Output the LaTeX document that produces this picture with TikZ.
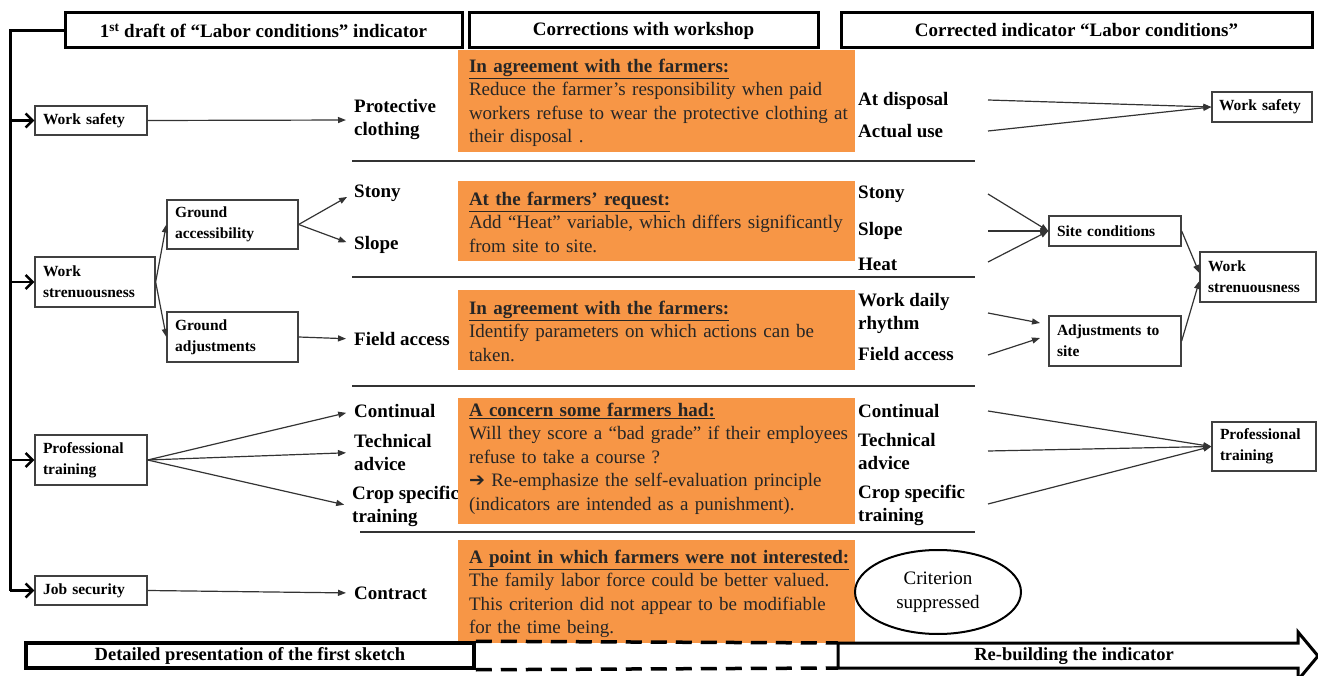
\documentclass[tikz,border=0pt]{standalone}
\usepackage{fontspec}
\setmainfont{Liberation Serif}
\newfontfamily\symfont{DejaVu Sans}
\usetikzlibrary{arrows.meta,shapes.geometric,calc}
\definecolor{orangeF}{RGB}{247,150,70}
\begin{document}
\begin{tikzpicture}[x=1pt,y=-1pt,
 hdr/.style={draw, line width=3pt, font=\fontsize{19}{21}\selectfont\bfseries, inner sep=0pt, minimum height=35pt},
 sbox/.style={draw=black!75, line width=1.3pt, font=\fontsize{15.5}{21}\selectfont\bfseries, align=left, inner xsep=8pt, inner ysep=0pt},
 lbl/.style={font=\fontsize{19}{23}\selectfont\bfseries, align=left, anchor=west, inner sep=0pt},
 obox/.style={fill=orangeF, draw=none, inner sep=0pt, minimum width=397pt},
 otext/.style={font=\fontsize{19}{23.5}\selectfont, text=black!85, text width=376pt, anchor=north west, inner sep=0pt, align=left},
 con/.style={draw=black!80, line width=1.2pt, -{Triangle[length=8pt,width=6pt]}},
 sepline/.style={draw=black!80, line width=2pt},
 spine/.style={line width=3pt},
 spinearr/.style={line width=2.5pt, -{Straight Barb[length=7pt,width=14pt]}},
 bar/.style={line width=3.5pt},
]
\useasboundingbox (0,0) rectangle (1318,676);

% ---------- headers ----------
\node[hdr, minimum width=397pt] (h1) at (263.5,30.5) {1\textsuperscript{st} draft of “Labor conditions” indicator};
\node[hdr, minimum width=349pt] (h2) at (643.5,30.5) {Corrections with workshop};
\node[hdr, minimum width=471pt] (h3) at (1076.5,30.5) {Corrected indicator “Labor conditions”};

% ---------- left boxes ----------
\node[sbox, text width=96pt, minimum height=29pt] (ws) at (91,120.5) {Work safety};
\node[sbox, text width=104pt, minimum height=50pt] (wst) at (95,282) {Work\\strenuousness};
\node[sbox, text width=115pt, minimum height=49pt] (ga) at (232.5,224.5) {Ground\\accessibility};
\node[sbox, text width=115pt, minimum height=50pt] (gad) at (232.5,337) {Ground\\adjustments};
\node[sbox, text width=96pt, minimum height=50pt] (pt) at (91,460) {Professional\\training};
\node[sbox, text width=96pt, minimum height=29pt] (js) at (91,590.5) {Job security};

% spine
\coordinate (sp0) at (10,30.5);
\coordinate (sp4) at (10,590.5);
\draw[spine] (h1.west) -- (sp0) -- (sp4);
\draw[spinearr] (ws.west -| sp0) -- (ws.west);
\draw[spinearr] (wst.west -| sp0) -- (wst.west);
\draw[spinearr] (pt.west -| sp0) -- (pt.west);
\draw[spinearr] (js.west -| sp0) -- (js.west);

% ---------- left labels ----------
\node[lbl] (prot) at (354,120) {Protective\\clothing};
\node[lbl] (stony) at (354,193) {Stony};
\node[lbl] (slope) at (354,245) {Slope};
\node[lbl] (fa) at (354,339) {Field access};
\node[lbl] (cont) at (354,411) {Continual};
\node[lbl] (tech) at (354,452.5) {Technical\\advice};
\node[lbl] (crop) at (352,506.5) {Crop specific\\training};
\node[lbl] (contr) at (354,593) {Contract};

\draw[con, shorten >=8pt] (ws.east) -- (prot.west);
\draw[con] (wst.east) -- (ga.west);
\draw[con] (wst.east) -- (gad.west);
\draw[con, shorten >=8pt] (ga.east) -- (stony.west);
\draw[con, shorten >=8pt] (ga.east) -- (slope.west);
\draw[con, shorten >=8pt] (gad.east) -- (fa.west);
\draw[con, shorten >=8pt] (pt.east) -- (cont.west);
\draw[con, shorten >=8pt] (pt.east) -- (tech.west);
\draw[con, shorten >=8pt] (pt.east) -- (crop.west);
\draw[con, shorten >=8pt] (js.east) -- (contr.west);

% ---------- separators ----------
\coordinate (s1a) at (352,161); \coordinate (s1b) at (975,161);
\coordinate (s2a) at (352,277); \coordinate (s2b) at (975,277);
\coordinate (s3a) at (352,386); \coordinate (s3b) at (975,386);
\coordinate (s4a) at (360,532); \coordinate (s4b) at (975,532);
\draw[sepline] (s1a) -- (s1b);
\draw[sepline] (s2a) -- (s2b);
\draw[sepline] (s3a) -- (s3b);
\draw[sepline] (s4a) -- (s4b);

% ---------- orange boxes ----------
\node[obox, minimum height=102pt] (ob1) at (656.5,101) {};
\node[obox, minimum height=80pt] (ob2) at (656.5,221) {};
\node[obox, minimum height=80pt] (ob3) at (656.5,330) {};
\node[obox, minimum height=126pt] (ob4) at (656.5,461) {};
\node[obox, minimum height=103pt] (ob5) at (656.5,591.5) {};

\node[otext] (ot1) at ($(ob1.north west)+(11,9)$) {\underline{\textbf{In agreement with the farmers:}}\\
\makebox[376pt][s]{Reduce the farmer’s responsibility when paid}\\
\makebox[376pt][s]{workers refuse to wear the protective clothing at}\\
their disposal .};
\node[otext] (ot2) at ($(ob2.north west)+(11,11)$) {\underline{\textbf{At the farmers’ request:}}\\
\makebox[376pt][s]{Add “Heat” variable, which differs significantly}\\
from site to site.};
\node[otext] (ot3) at ($(ob3.north west)+(11,11)$) {\underline{\textbf{In agreement with the farmers:}}\\
\makebox[376pt][s]{Identify parameters on which actions can be}\\
taken.};
\node[otext] (ot4) at ($(ob4.north west)+(11,5)$) {\underline{\textbf{A concern some farmers had:}}\\
\makebox[376pt][s]{Will they score a “bad grade” if their employees}\\
refuse to take a course ?\\
\makebox[376pt][s]{{\symfont\bfseries\fontsize{19}{19}\selectfont ➔} Re-emphasize the self-evaluation principle}\\
(indicators are intended as a punishment).};
\node[otext] (ot5) at ($(ob5.north west)+(11,10)$) {\underline{\textbf{A point in which farmers were not interested:}}\\
\makebox[376pt][s]{The family labor force could be better valued.}\\
\makebox[376pt][s]{This criterion did not appear to be modifiable}\\
for the time being.};

% ---------- right labels ----------
\node[lbl] (ad) at (858,101) {At disposal};
\node[lbl] (au) at (858,131) {Actual use};
\node[lbl] (rst) at (858,194) {Stony};
\node[lbl] (rsl) at (858,231) {Slope};
\node[lbl] (rh) at (858,264) {Heat};
\node[lbl] (wdr) at (858,313.5) {Work daily\\rhythm};
\node[lbl] (rfa) at (858,354) {Field access};
\node[lbl] (rc) at (858,411) {Continual};
\node[lbl] (rt) at (858,451.5) {Technical\\advice};
\node[lbl] (rcs) at (858,505.5) {Crop specific\\training};

% ---------- right boxes ----------
\node[sbox, text width=86pt, inner xsep=7pt, minimum height=30pt] (rws) at (1262,107) {Work safety};
\node[sbox, text width=116pt, minimum height=30pt] (sc) at (1115,231) {Site conditions};
\node[sbox, text width=116pt, minimum height=50pt] (adj) at (1115,341) {Adjustments to\\site};
\node[sbox, text width=100pt, minimum height=50pt] (rwst) at (1258,277) {Work\\strenuousness};
\node[sbox, text width=88pt, minimum height=49pt] (rpt) at (1264,446.5) {Professional\\training};

% start points of right connectors
\coordinate (adS) at (988,100);
\coordinate (auS) at (988,131);
\coordinate (rstS) at (988,194);
\coordinate (rslS) at (988,231);
\coordinate (rhS) at (988,262);
\coordinate (wdrS) at (988,313);
\coordinate (rfaS) at (988,355);
\coordinate (rcS) at (988,411);
\coordinate (rtS) at (988,451);
\coordinate (rcsS) at (988,504);
\coordinate (adjA) at (1040,323);
\coordinate (adjB) at (1040,338);

\draw[con] (adS) -- (rws.west);
\draw[con] (auS) -- (rws.west);
\draw[con] (rstS) -- (sc.west);
\draw[con] (rslS) -- (sc.west);
\draw[con] (rhS) -- (sc.west);
\draw[con] (wdrS) -- (adjA);
\draw[con] (rfaS) -- (adjB);
\draw[con] (sc.east) -- ($(rwst.west)+(0,-4)$);
\draw[con] (adj.east) -- ($(rwst.west)+(0,4)$);
\draw[con] (rcS) -- (rpt.west);
\draw[con] (rtS) -- (rpt.west);
\draw[con] (rcsS) -- (rpt.west);

% ---------- criterion suppressed ----------
\node[ellipse, draw, line width=2pt, minimum width=166pt, minimum height=84pt, inner sep=0pt,
      font=\fontsize{19}{23.5}\selectfont, align=center] (crit) at (938,592) {Criterion\\suppressed};

% ---------- bottom bar ----------
\node[draw, bar, minimum width=448pt, minimum height=25pt, inner sep=0pt,
      font=\fontsize{18.5}{20}\selectfont\bfseries] (bb1) at (250,655.5) {Detailed presentation of the first sketch};
\coordinate (a1) at (838,643);
\coordinate (a2) at (838,668);
\draw[line width=3pt, line join=miter] (a1) -- (1298,643) -- (1298,632) -- (1318,656) -- (1298,680) -- (1298,668) -- (a2) -- cycle;
\node[font=\fontsize{18.5}{20}\selectfont\bfseries, inner sep=0pt] (rb) at (1074,656) {Re-building the indicator};
\draw[bar, dash pattern=on 16pt off 9pt] (bb1.north east) -- (a1);
\draw[bar, dash pattern=on 16pt off 9pt] (bb1.south east) -- (a2);
\end{tikzpicture}
\end{document}
